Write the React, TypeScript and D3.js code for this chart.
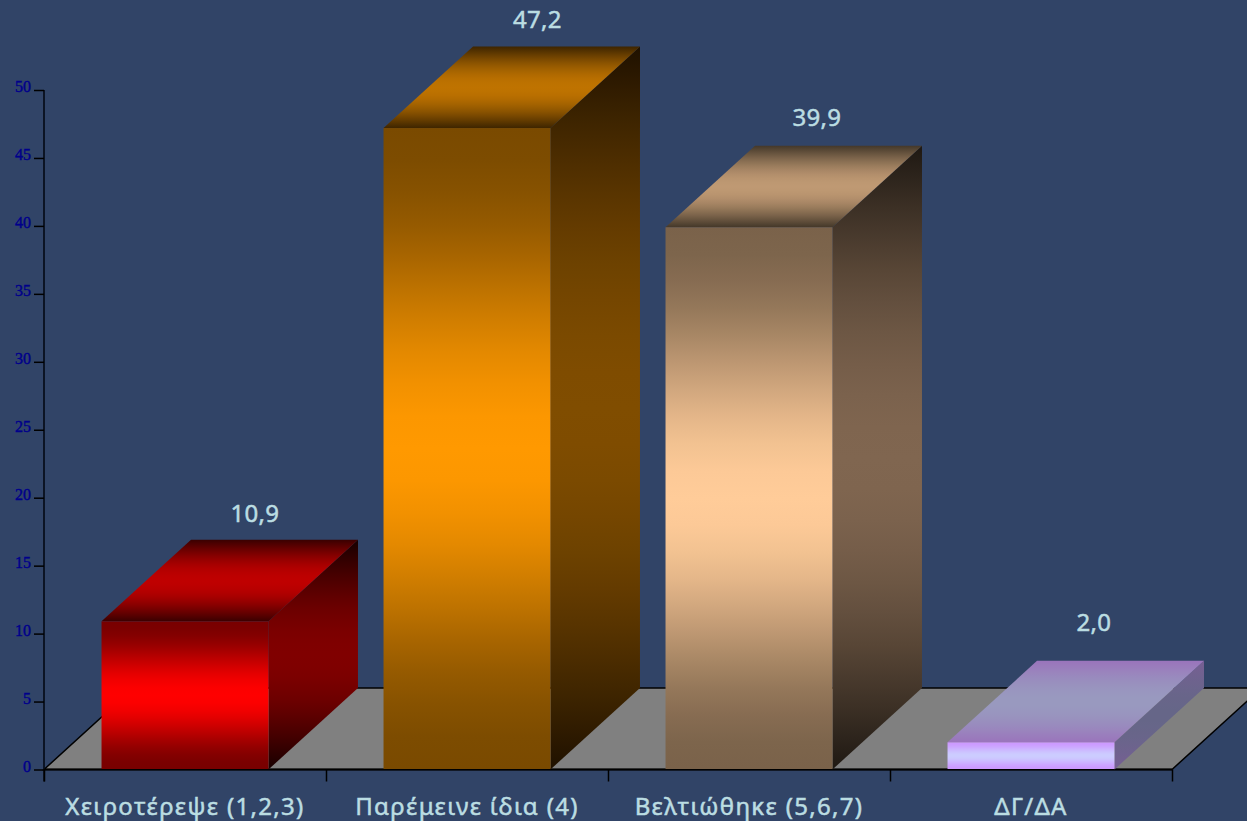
import React from "react";
import * as d3 from "d3";

const categories = ["Χειροτέρεψε (1,2,3)", "Παρέμεινε ίδια (4)", "Βελτιώθηκε (5,6,7)", "ΔΓ/ΔΑ"];
const values = [10.9, 47.2, 39.9, 2.0];
const valueLabels = ["10,9", "47,2", "39,9", "2,0"];
const yTicks = [0, 5, 10, 15, 20, 25, 30, 35, 40, 45, 50];
const frontMid = ["#ff0000", "#ff9900", "#ffcc99", "#ccccff"];
const frontEdge = ["#780000", "#7a4a00", "#7a624a", "#cc99ff"];
const sideMid = ["#800000", "#804d00", "#806650", "#666688"];
const sideEdge = ["#160000", "#1f1100", "#1e1812", "#775f94"];
const topMid = ["#bf0000", "#bf7300", "#bf9973", "#9999bf"];
const topEdge = ["#3a0000", "#3e2500", "#443829", "#9a74bc"];

const W = 1247;
const H = 821;
const DX = 89.5;
const DY = 81.5;
const BASE = 769.5;
const LEFT = 44;
const RIGHT = 1172;

// Per-label offsets of the value captions from their default anchor.
const captionShiftX = [0, 0.5, -2, -7];
const captionLift = [17.5, 18.5, 19.5, 29.5];

const x = d3.scaleBand<string>().domain(categories).range([LEFT, RIGHT]).paddingInner(0.408).paddingOuter(0.204);
const y = d3.scaleLinear().domain([0, 50]).range([BASE, 90]);
const poly = d3.line();

const stopPositions = d3.range(0, 1.0001, 0.05);

// Symmetric shading: edge colour at both ends, full colour at the centre.
function Stops({ edge, mid, ease }: { edge: string; mid: string; ease: (t: number) => number }) {
  const mix = d3.interpolateRgb(edge, mid);
  return (
    <>
      {stopPositions.map((p) => (
        <stop key={p} offset={p} stopColor={mix(ease(1 - Math.abs(2 * p - 1)))} />
      ))}
    </>
  );
}

export default function App() {
  return (
    <svg width={W} height={H} style={{ position: "fixed", left: 0, top: 0, background: "#314467" }}>
      <defs>
        {categories.map((_, i) => (
          <React.Fragment key={i}>
            <linearGradient id={`front${i}`} x1="0" y1="0" x2="0" y2="1">
              <Stops edge={frontEdge[i]} mid={frontMid[i]} ease={d3.easeSinInOut} />
            </linearGradient>
            <linearGradient id={`side${i}`} x1="0" y1="0" x2="0" y2="1">
              <Stops edge={sideEdge[i]} mid={sideMid[i]} ease={d3.easeSinOut} />
            </linearGradient>
            <linearGradient id={`top${i}`} x1="0" y1="0" x2="0" y2="1">
              <Stops edge={topEdge[i]} mid={topMid[i]} ease={d3.easeSinOut} />
            </linearGradient>
          </React.Fragment>
        ))}
      </defs>

      {/* floor */}
      <path
        d={poly([[LEFT, BASE], [LEFT + DX, BASE - DY], [RIGHT + DX, BASE - DY], [RIGHT, BASE]] as [number, number][])! + "Z"}
        fill="#808080"
        stroke="#000"
        strokeWidth={1.5}
      />

      {/* axes */}
      <g stroke="#000" strokeWidth={2} fill="none">
        <line x1={LEFT} x2={LEFT} y1={y(50)} y2={BASE + 12} stroke="#0c1424" />
        <line x1={LEFT} x2={RIGHT} y1={BASE} y2={BASE} />
        {yTicks.map((t) => (
          <line key={t} x1={LEFT - 10} x2={LEFT} y1={y(t) + 0.5} y2={y(t) + 0.5} strokeWidth={1.5} />
        ))}
        {d3.range(categories.length + 1).map((i) => {
          const tx = LEFT + (i * (RIGHT - LEFT)) / categories.length;
          return <line key={i} x1={tx + 0.5} x2={tx + 0.5} y1={BASE} y2={BASE + 12} strokeWidth={1.5} />;
        })}
      </g>

      {yTicks.map((t) => (
        <text key={t} x={31} y={y(t) + 2} textAnchor="end" fontFamily="'Liberation Serif', serif" fontSize={16} fill="#00008b" stroke="#00008b" strokeWidth={0.4}>
          {t}
        </text>
      ))}

      {/* bars */}
      {categories.map((c, i) => {
        const x0 = x(c)!;
        const x1 = x0 + x.bandwidth();
        const yt = y(values[i]);
        const pts = (p: [number, number][]) => poly(p)! + "Z";
        return (
          <g key={c}>
            <path d={pts([[x1, yt], [x1 + DX, yt - DY], [x1 + DX, BASE - DY], [x1, BASE]])} fill={`url(#side${i})`} />
            <path d={pts([[x0, yt], [x0 + DX, yt - DY], [x1 + DX, yt - DY], [x1, yt]])} fill={`url(#top${i})`} />
            <rect x={x0} y={yt} width={x.bandwidth()} height={BASE - 0.5 - yt} fill={`url(#front${i})`} />
            <text
              x={(x0 + x1) / 2 + DX * 0.78 + captionShiftX[i]}
              y={yt - DY - captionLift[i]}
              textAnchor="middle"
              fontFamily="'Noto Sans', sans-serif"
              fontSize={24}
              letterSpacing={0.3}
              fill="#bbdde2"
              stroke="#bbdde2"
              strokeWidth={0.5}
            >
              {valueLabels[i]}
            </text>
            <text
              x={(x0 + x1) / 2}
              y={815}
              textAnchor="middle"
              fontFamily="'Noto Sans', sans-serif"
              fontSize={24}
              letterSpacing={1.32}
              fill="#bbdde2"
              stroke="#bbdde2"
              strokeWidth={0.5}
            >
              {c}
            </text>
          </g>
        );
      })}
    </svg>
  );
}
